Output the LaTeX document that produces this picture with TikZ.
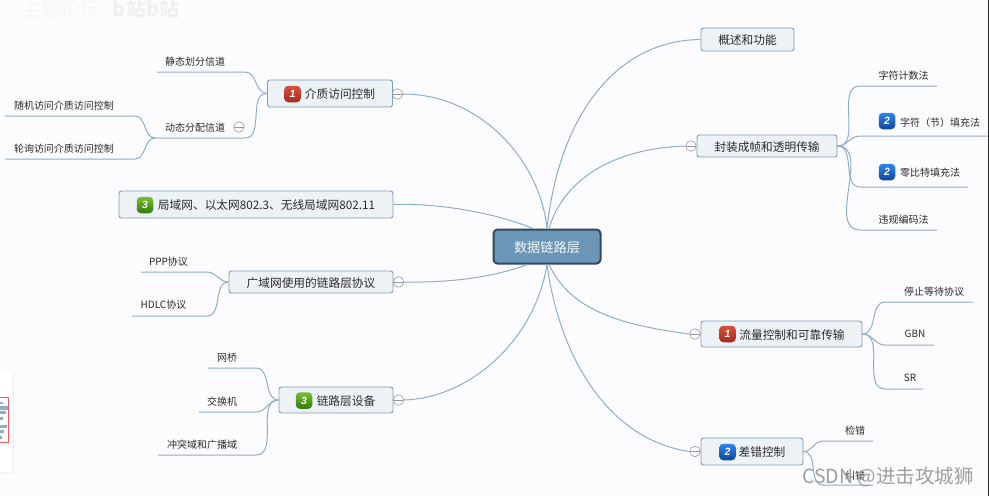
\documentclass[tikz,border=0pt]{standalone}
\usepackage{fontspec}
\usepackage{xcolor}
\setmainfont{Noto Sans CJK SC}
\newfontfamily\digitfont{Liberation Sans}
\usetikzlibrary{arrows.meta,positioning,calc}

\definecolor{linkblue}{HTML}{8FADC8}
\definecolor{boxfill}{HTML}{EDF2F7}
\definecolor{rootfill}{HTML}{6B96B8}
\definecolor{rootline}{HTML}{33475E}
\definecolor{inktext}{HTML}{2B2B2B}
\definecolor{redtop}{HTML}{D8503C}
\definecolor{redbot}{HTML}{A52A1C}
\definecolor{bluetop}{HTML}{2F86E8}
\definecolor{bluebot}{HTML}{0C47A0}
\definecolor{greentop}{HTML}{7DBE32}
\definecolor{greenbot}{HTML}{2F7A08}

\tikzset{
  branch/.style={draw=linkblue, line width=1pt},
  topicbox/.style={draw=linkblue!90!black, fill=boxfill, line width=0.9pt, rounded corners=2.5pt,
    font=\fontsize{11.7}{14}\selectfont, text=inktext, inner sep=0pt, text height=12pt, text depth=1.4pt},
  rootbox/.style={draw=rootline, fill=rootfill, line width=2pt, rounded corners=4pt,
    font=\fontsize{13.2}{16}\selectfont, text=white!92!rootfill, inner sep=0pt, text height=13.4pt, text depth=1.6pt},
  leaf/.style={font=\fontsize{10}{12}\selectfont, text=inktext, inner sep=0pt, yshift=-0.8pt},
  foldmark/.style={circle, draw=gray!80, fill=white, line width=0.6pt, minimum size=10.5pt, inner sep=0pt,
    path picture={\draw[gray!80, line width=0.7pt] (path picture bounding box.west) -- (path picture bounding box.east);}},
  badge/.style={rounded corners=4pt, minimum size=16.5pt, inner sep=0pt, text=white,
    font=\digitfont\fontsize{10.5}{12}\selectfont\bfseries\itshape},
  badgered/.style={badge, top color=redtop, bottom color=redbot},
  badgeblue/.style={badge, top color=bluetop, bottom color=bluebot},
  badgegreen/.style={badge, top color=greentop, bottom color=greenbot}
}

\begin{document}
\begin{tikzpicture}[x=1pt, y=-1pt]
  \fill[white!99!blue] (0,0) rectangle (989,496);
  \useasboundingbox (0,0) rectangle (989,496);

  % strip on the right edge
  \fill[black!85] (987.5,0) rectangle (989,496);

  % faint marks top left
  \node[font=\fontsize{19.5}{20}\selectfont, text=gray!7, inner sep=0pt] (forumMark) at (61,9) {主题论坛};
  \node[font=\fontsize{20}{20}\selectfont\bfseries, text=gray!12, inner sep=0pt] (siteMark) at (146,9) {b站b站};

  % small card on the left edge
  \fill[gray!12] (0,372.5) rectangle (13.5,473.5);
  \fill[white, rounded corners=1pt] (-3,372) rectangle (12.5,472.5);
  \fill[linkblue] (0,401.5) rectangle (3,404);
  \fill[linkblue] (0,406) rectangle (8,409.5);
  \fill[linkblue] (0,411) rectangle (6,413.5);
  \fill[linkblue] (0,417) rectangle (3,419.5);
  \fill[linkblue] (0,424.5) rectangle (7,427.5);
  \fill[linkblue] (0,430) rectangle (4,432.5);
  \fill[linkblue] (0,436) rectangle (2,438.5);
  \draw[red!65, line width=0.8pt] (-2,397) rectangle (8.5,442);

  % centre
  \node[rootbox, minimum width=107pt, minimum height=34pt] (root) at (547,246.5) {数据链路层};

  % left, top: medium access
  \node[topicbox, minimum width=125pt, minimum height=27pt] (mac) at (330,93.5) {\hspace*{20pt}介质访问控制};
  \node[badgered] (macBadge) at (292.5,94) {1};
  \node[foldmark] (macFold) at (397.5,94) {};
  \draw[branch] (macFold.east) .. controls (480,94) and (540,160) .. (root.north);

  \node[leaf] (chStatic) at (195,61) {静态划分信道};
  \coordinate (chStaticEnd) at (157,72);
  \draw[branch] (chStaticEnd) -- ++(88,0) to[out=0, in=180] (mac.west);

  \node[leaf] (chDynamic) at (195,127) {动态分配信道};
  \coordinate (chDynamicEnd) at (155,138);
  \draw[branch] (chDynamicEnd) -- ++(90,0) to[out=0, in=180] (mac.west);
  \node[foldmark] (chDynamicFold) at (239,127) {};

  \node[leaf] (chRandom) at (64,105) {随机访问介质访问控制};
  \coordinate (chRandomEnd) at (5,116);
  \draw[branch] (chRandomEnd) -- ++(130,0) to[out=0, in=180] (chDynamicEnd);

  \node[leaf] (chPolling) at (64,148) {轮询访问介质访问控制};
  \coordinate (chPollingEnd) at (5,159);
  \draw[branch] (chPollingEnd) -- ++(130,0) to[out=0, in=180] (chDynamicEnd);

  % left: LAN
  \node[topicbox, minimum width=274pt, minimum height=27pt] (lan) at (256,204.5) {\hspace*{21pt}局域网、以太网802.3、无线局域网802.11};
  \node[badgegreen] (lanBadge) at (145,205) {3};
  \draw[branch] (lan.east) .. controls (440,203) and (495,213) .. ($(root.north)+(-14,0)$);

  % left: WAN
  \node[topicbox, minimum width=164pt, minimum height=22pt] (wan) at (311,282) {广域网使用的链路层协议};
  \node[foldmark] (wanFold) at (398.5,282) {};
  \draw[branch] (wanFold.east) .. controls (450,283) and (495,277) .. ($(root.south)+(-20,0)$);

  \node[leaf] (wanPpp) at (168.5,261) {PPP协议};
  \coordinate (wanPppEnd) at (141,272);
  \draw[branch] (wanPppEnd) -- ++(66,0) to[out=0, in=180] (wan.west);

  \node[leaf] (wanHdlc) at (163.5,304) {HDLC协议};
  \coordinate (wanHdlcEnd) at (132,316);
  \draw[branch] (wanHdlcEnd) -- ++(75,0) to[out=0, in=180] (wan.west);

  % left, bottom: devices
  \node[topicbox, minimum width=114pt, minimum height=26pt] (dev) at (336,400) {\hspace*{20pt}链路层设备};
  \node[badgegreen] (devBadge) at (304,400.5) {3};
  \node[foldmark] (devFold) at (398.5,400) {};
  \draw[branch] (devFold.east) .. controls (470,398) and (535,340) .. (root.south);

  \node[leaf] (devBridge) at (227,357) {网桥};
  \coordinate (devBridgeEnd) at (208,368);
  \draw[branch] (devBridgeEnd) -- ++(48,0) to[out=0, in=180] (dev.west);

  \node[leaf] (devSwitch) at (222,401) {交换机};
  \coordinate (devSwitchEnd) at (199,412);
  \draw[branch] (devSwitchEnd) -- ++(57,0) to[out=0, in=180] (dev.west);

  \node[leaf] (devDomain) at (202,444) {冲突域和广播域};
  \coordinate (devDomainEnd) at (158,455);
  \draw[branch] (devDomainEnd) -- ++(98,0) to[out=0, in=180] (dev.west);

  % right, top: overview
  \node[topicbox, minimum width=93pt, minimum height=23pt] (intro) at (747.5,39.5) {概述和功能};
  \draw[branch] (intro.west) .. controls (620,40) and (560,110) .. (root.north);

  % right: framing
  \node[topicbox, minimum width=140pt, minimum height=22pt] (frame) at (767,146) {封装成帧和透明传输};
  \node[foldmark] (frameFold) at (691,146) {};
  \draw[branch] (frameFold.west) .. controls (620,148) and (565,175) .. ($(root.north)+(2,0)$);

  \node[leaf] (frameCount) at (903.5,75) {字符计数法};
  \coordinate (frameCountEnd) at (937,86);
  \draw[branch] (frameCountEnd) -- ++(-77,0) to[out=180, in=0] (frame.east);

  \node[leaf] (frameByte) at (940,122) {字符（节）填充法};
  \node[badgeblue] (frameByteBadge) at (887,121) {2};
  \coordinate (frameByteEnd) at (987.5,136);
  \draw[branch] (frameByteEnd) -- ++(-127.5,0) to[out=180, in=0] (frame.east);

  \node[leaf] (frameBit) at (930,172) {零比特填充法};
  \node[badgeblue] (frameBitBadge) at (887,172) {2};
  \coordinate (frameBitEnd) at (968,187);
  \draw[branch] (frameBitEnd) -- ++(-108,0) to[out=180, in=0] (frame.east);

  \node[leaf] (frameCode) at (903.5,219) {违规编码法};
  \coordinate (frameCodeEnd) at (937,230);
  \draw[branch] (frameCodeEnd) -- ++(-77,0) to[out=180, in=0] (frame.east);

  % right: flow control
  \node[topicbox, minimum width=161pt, minimum height=26pt] (flow) at (781.5,334) {\hspace*{21pt}流量控制和可靠传输};
  \node[badgered] (flowBadge) at (727.5,334) {1};
  \node[foldmark] (flowFold) at (695,334) {};
  \draw[branch] (flowFold.west) .. controls (620,325) and (570,310) .. ($(root.south)+(2,0)$);

  \node[leaf] (flowStop) at (934,291) {停止等待协议};
  \coordinate (flowStopEnd) at (973,302);
  \draw[branch] (flowStopEnd) -- ++(-88,0) to[out=180, in=0] (flow.east);

  \node[leaf] (flowGbn) at (915,333) {GBN};
  \coordinate (flowGbnEnd) at (934,345);
  \draw[branch] (flowGbnEnd) -- ++(-49,0) to[out=180, in=0] (flow.east);

  \node[leaf] (flowSr) at (910,377) {SR};
  \coordinate (flowSrEnd) at (923,389);
  \draw[branch] (flowSrEnd) -- ++(-38,0) to[out=180, in=0] (flow.east);

  % right, bottom: error control
  \node[topicbox, minimum width=102pt, minimum height=27pt] (err) at (752,451.5) {\hspace*{20pt}差错控制};
  \node[badgeblue] (errBadge) at (727.5,452) {2};
  \node[foldmark] (errFold) at (695,451.5) {};
  \draw[branch] (errFold.west) .. controls (610,440) and (560,360) .. (root.south);

  \node[leaf] (errDetect) at (855,430) {检错};
  \coordinate (errDetectEnd) at (873,441);
  \draw[branch] (errDetectEnd) -- ++(-50,0) to[out=180, in=0] (err.east);

  \node[leaf] (errFix) at (855,475) {纠错};
  \coordinate (errFixEnd) at (873,485);
  \draw[branch] (errFixEnd) -- ++(-50,0) to[out=180, in=0] (err.east);

  % overlay mark
  \node[font=\fontsize{19.5}{22}\selectfont, text=gray!75, inner sep=0pt] (csdnMark) at (888,477) {CSDN @进击攻城狮};
\end{tikzpicture}
\end{document}
